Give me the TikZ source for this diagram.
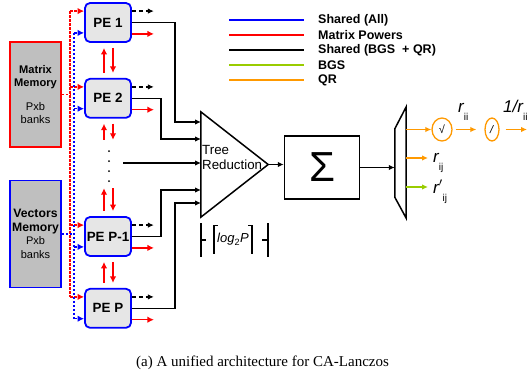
\documentclass[tikz,border=0pt]{standalone}
\usepackage{fontspec}
\setmainfont{Liberation Sans}
\newfontfamily\capfont{Liberation Serif}
\usetikzlibrary{arrows.meta, positioning, shapes.geometric}
\definecolor{shblue}{HTML}{0000FF}
\definecolor{mpred}{HTML}{FF0000}
\definecolor{bgsgreen}{HTML}{99CC00}
\definecolor{qrorange}{HTML}{FF9900}
\definecolor{pegray}{HTML}{E6E6E6}
\definecolor{memgray}{HTML}{BFBFBF}
\newcommand{\pxsize}[1]{\fontsize{#1}{#1}\selectfont}
\newcommand{\rlab}[2]{{\pxsize{17}\itshape #1}\raisebox{-8pt}{\pxsize{10}#2}}

\begin{document}
\begin{tikzpicture}[x=1pt, y=-1pt,
  node distance=35pt,
  pe/.style={draw=shblue, line width=1.8pt, rounded corners=5pt, fill=pegray,
             minimum width=46pt, minimum height=39pt, inner sep=0pt, font=\bfseries\pxsize{13.4}},
  mem/.style={line width=1.5pt, fill=memgray, minimum width=51pt, align=center, inner sep=0pt},
  ell/.style={draw=qrorange, ellipse, line width=1.3pt, minimum height=23pt, inner sep=0pt, font=\pxsize{11}},
  lbl/.style={anchor=base west, inner sep=0pt},
  a/.style={-{Latex[length=6pt, width=5.5pt]}, line width=1.5pt},
  ra/.style={-{Latex[length=6.5pt, width=6.5pt]}, draw=mpred, line width=1.5pt},
  rdot/.style={draw=mpred, line width=1.5pt, dash pattern=on 2.5pt off 1.5pt},
  bdot/.style={draw=shblue, line width=1.5pt, dash pattern=on 2.5pt off 1.5pt},
  oa/.style={a, draw=qrorange}]
  \useasboundingbox (0,0) rectangle (527,383);

  \node[mem, draw=mpred, minimum height=105pt, font=\fontsize{11.1}{12.5}\selectfont] (matmem) at (35.5,94.5)
    {\textbf{Matrix}\\\textbf{Memory}\\[12pt]Pxb\\banks};
  \node[mem, draw=shblue, minimum height=107pt, below=32pt of matmem, font=\fontsize{12.2}{13.5}\selectfont] (vecmem)
    {\textbf{Vectors}\\\textbf{Memory}\\{\pxsize{11}Pxb}\\{\pxsize{11}banks}};

  \node[pe] (pe1) at (108,22.5) {PE 1};
  \node[pe, below=of pe1] (pe2) {PE 2};
  \node[pe] (pep1) at (108,236.5) {PE P-1};
  \node[pe, below=31pt of pep1] (pep) {PE P};
  \node[minimum width=4pt, minimum height=38pt, inner sep=0pt] (gap) at (108,164) {};
  \foreach \y in {151,161,171,181} \fill (109,\y) circle (1pt);

  \foreach \lo/\hi in {pe2/pe1, gap/pe2, pep1/gap, pep/pep1} {
    \draw[ra] ([xshift=-4pt, yshift=5pt]\lo.north) -- ([xshift=-4pt, yshift=-5pt]\hi.south);
    \draw[ra] ([xshift=5pt, yshift=-5pt]\hi.south) -- ([xshift=5pt, yshift=5pt]\lo.north);
  }

  \coordinate (rx) at (70,0);
  \coordinate (bx) at (74,0);
  \foreach \p in {pe1,pe2,pep1,pep} {
    \coordinate (\p r) at ([yshift=-9pt]\p.north west);
    \coordinate (\p b) at ([yshift=10pt]\p.south west);
    \draw[rdot, -{Latex[length=6.5pt, width=6.5pt]}] (\p r -| rx) -- (\p r);
    \draw[bdot, -{Latex[length=6.5pt, width=6.5pt]}] (\p b -| bx) -- (\p b);
    \path ([yshift=-9pt]\p.north east) ++(22,0) coordinate (\p d);
    \path ([yshift=9pt]\p.south east) ++(22,0) coordinate (\p o);
    \draw[a, dash pattern=on 4pt off 3pt] ([yshift=-9pt]\p.north east) -- (\p d);
    \draw[ra] ([yshift=9pt]\p.south east) -- (\p o);
  }
  \draw[rdot] (pe1r -| rx) -- (pepr -| rx);
  \draw[bdot] (pe1b -| bx) -- (pepb -| bx);
  \draw[rdot] (matmem.east) -- (matmem.east -| rx);
  \draw[bdot] (vecmem.east) -- (vecmem.east -| bx);

  \node[minimum width=67pt, minimum height=105pt, inner sep=0pt] (tri) at (234.5,164.5) {};
  \draw[line width=1.5pt] (tri.north west) -- (tri.east) -- (tri.south west) -- cycle;
  \node[anchor=west, align=left, inner sep=1pt, font=\fontsize{13.3}{15}\selectfont] (treetxt) at (201,157.5) {Tree\\Reduction};
  \foreach \i/\y in {1/122, 2/139, 3/163, 4/190, 5/203} \coordinate (in\i) at (201,\y);
  \coordinate (midsrc) at (123,163);
  \draw[a] (pe1.east) -- ++(43,0) |- (in1);
  \draw[a] (pe2.east) -- ++(29,0) |- (in2);
  \draw[a] (midsrc) -- (in3);
  \draw[a] (pep1.east) -- ++(29,0) |- (in4);
  \draw[a] (pep.east) -- ++(43,0) |- (in5);

  \draw[line width=1.5pt] (201,223) -- (201,257) (201,240) -- (206,240) (262,240) -- (268,240) (268,223) -- (268,257);
  \node[font=\pxsize{13}, inner xsep=3pt, minimum height=28pt] (logp) at (233,239.5) {\textit{log}\textsubscript{2}\textit{P}};
  \draw[line width=1.1pt] (logp.south west) -- (logp.north west) -- ++(4,0);
  \draw[line width=1.1pt] (logp.south east) -- (logp.north east) -- ++(-4,0);

  \node[draw, line width=1.5pt, minimum width=75pt, minimum height=63pt, inner sep=0pt, font=\pxsize{42}] (sigma) at (322,167.5) {Σ};
  \draw[a] (tri.east) -- (tri.east -| sigma.west);
  \node[minimum width=11pt, minimum height=111pt, inner sep=0pt] (mux) at (400.5,162.5) {};
  \draw[line width=1.5pt] (mux.north east) -- ([yshift=-22pt]mux.north west) -- ([yshift=21pt]mux.south west) -- (mux.south east) -- cycle;
  \draw[a] (sigma.east) -- (sigma.east -| mux.west);

  \node[ell, minimum width=20pt] (sqrt) at (442,129.5) {√};
  \node[ell, minimum width=14pt] (div) at (492,129.5) {\textit{/}};
  \coordinate (rout) at (527,129.5);
  \draw[oa] (sqrt -| mux.east) -- (sqrt);
  \draw[oa, shorten <=3pt, shorten >=8pt] (sqrt) -- (div);
  \draw[oa, shorten <=6pt] (div) -- (rout);
  \node[lbl] (rii) at (458,112) {\rlab{r}{ii}};
  \node[lbl] (invr) at (503,112) {\rlab{1/r}{ii}};
  \node[lbl] (rij) at (433,162) {\rlab{r}{ij}};
  \node[lbl] (rpij) at (433,193) {\rlab{r$'$}{ij}};
  \coordinate (rijin) at ([xshift=-5pt, yshift=4pt]rij.base west);
  \coordinate (rpijin) at ([xshift=-5pt, yshift=6pt]rpij.base west);
  \draw[oa] (rijin -| mux.east) -- (rijin);
  \draw[a, draw=bgsgreen] (rpijin -| mux.east) -- (rpijin);

  \foreach \c/\t [count=\i] in {shblue/Shared (All), mpred/Matrix Powers, black/Shared (BGS~ + QR), bgsgreen/BGS, qrorange/QR} {
    \draw[\c, line width=1.5pt] (229,5+15*\i) -- (304,5+15*\i);
    \node[anchor=west, inner sep=0pt, font=\bfseries\pxsize{12.5}] (leg\i) at (318,5+15*\i) {\t};
  }

  \node[font=\capfont\pxsize{15}, anchor=base] (caption) at (262.5,366) {(a) A unified architecture for CA-Lanczos};
\end{tikzpicture}
\end{document}
